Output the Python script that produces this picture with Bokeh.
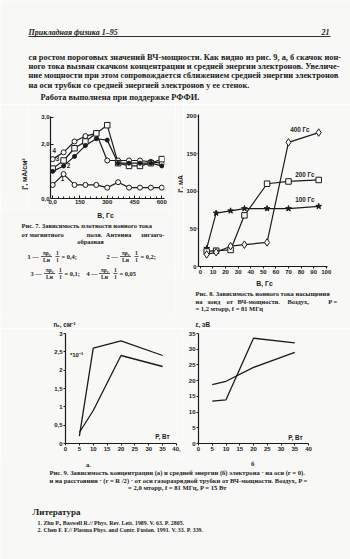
import math
from bokeh.plotting import figure
from bokeh.models import Range1d, FixedTicker, Label, CustomJSTickFormatter
from bokeh.layouts import column, row
from bokeh.embed import file_html
from bokeh.resources import INLINE
from bokeh.core.properties import value

# ------------------------------------------------------------------ data
# Fig. 7: ion current density j+ (mA/cm^2) vs magnetic field B (Gs)
fig7_b = [0, 60, 120, 180, 240, 300, 360, 420, 480, 540, 600]
fig7_curve1 = [0.5, 0.9, 0.5, 0.5, 0.5, 0.4, 0.6, 0.4, 0.4, 0.4, 0.4]
fig7_curve2 = [1.0, 1.2, 1.55, 1.95, 2.2, 2.15, 1.3, 1.3, 1.3, 1.3, 1.2]
fig7_curve3 = [1.1, 1.4, 1.85, 2.1, 2.4, 2.7, 1.3, 1.2, 1.2, 1.3, 1.45]
fig7_curve4 = [1.45, 1.7, 2.1, 2.3, 2.4, 1.4, 1.4, 1.4, 1.4, 1.35, 1.3]
fig7_names = ["1", "2", "3", "4"]
fig7_xticks = [0, 150, 300, 450, 600]
fig7_xtick_labels = ["0,0", "150", "300", "450", "600"]
fig7_yticks = [0, 2, 3]
fig7_ytick_labels = ["0,0", "2,0", "3,0"]

# Fig. 8: probe saturation ion current j+ (mA)
fig8_x = [5, 12.5, 24, 35, 53, 70, 94]
fig8_100 = [24, 71, 74, 77, 77, 77, 80]
fig8_200 = [20, 21, 22, 68, 110, 113, 115]
fig8_400 = [16, 19, 27, 29, 32, 165, 178]
fig8_names = ["100 Гс", "200 Гс", "400 Гс"]
fig8_xticks = [0, 10, 20, 30, 40, 50, 60, 70, 80, 90, 100]
fig8_xtick_labels = ["0", "10", "20", "30", "40", "50", "60", "70", "80", "90", "100"]
fig8_yticks = [0, 50, 100, 150, 200]
fig8_ytick_labels = ["0", "50", "100", "150", "200"]

# Fig. 9: electron concentration (a) and mean energy (б) vs RF power P (W)
fig9_p = [5, 10, 20, 35]
fig9a_axis = [0.2, 2.6, 2.8, 2.4]
fig9a_half = [0.3, 0.9, 2.4, 2.1]
fig9b_axis = [13.5, 13.9, 33.5, 32.0]
fig9b_half = [18.7, 19.8, 24.2, 29.0]
fig9_xticks = [0, 5, 10, 15, 20, 25, 30, 35, 40]
fig9a_xtick_labels = ["0", "5", "10", "15", "20", "25", "30", "35", "40,"]
fig9b_xtick_labels = ["0", "5", "10", "15", "20", "25", "30", "35", "40"]
fig9a_yticks = [0, 0.5, 1, 1.5, 2, 2.5, 3]
fig9a_ytick_labels = ["0", "0,5", "1", "1,5", "2", "2,5", "3"]
fig9b_yticks = [0, 5, 10, 15, 20, 25, 30, 35]
fig9b_ytick_labels = ["0", "5", "10", "15", "20", "25", "30", "35"]

# ------------------------------------------------------------------ texts
header_left = "Прикладная физика 1–95"
header_right = "21"
para_lines = [
    "ся ростом пороговых значений ВЧ-мощности. Как видно из рис. 9, а, б скачок ион-",
    "ного тока вызван скачком концентрации и средней энергии электронов. Увеличе-",
    "ние мощности при этом сопровождается сближением средней энергии электронов",
    "на оси трубки со средней энергией электронов у ее стенок.",
]
thanks_line = "Работа выполнена при поддержке РФФИ."
fig7_xlabel = "B, Гс"
fig7_ylabel = "j⁺, мА/см²"
cap7_line1 = "Рис. 7. Зависимость плотности ионного тока"
cap7_line2_words = ["от магнитного", "поля.", "Антенна", "зигзаго-"]
cap7_line3 = "образная"
formula_nums = ["1 —", "2 —", "3 —", "4 —"]
formula_denoms = ["Lн", "Lн", "Lн", "Lн"]
formula_vals = ["= 0,4;", "= 0,2;", "= 0,1;", "= 0,05"]
fig8_xlabel = "B, Гс"
fig8_ylabel = "j⁺, мА"
cap8_line1 = "Рис. 8. Зависимость ионного тока насыщения"
cap8_line2_words = ["на", "зонд", "от", "ВЧ-мощности.", "Воздух,", "P ="]
cap8_line3 = "= 1,2 мторр, f = 81 МГц"
fig9a_ylabel = "nₑ, см⁻³"
fig9b_ylabel = "ε, эВ"
fig9_xlabel = "P, Вт"
fig9a_factor = "*10⁻³"
fig9_panels = ["а.", "б"]
cap9_lines = [
    "Рис. 9. Зависимость концентрации (а) и средней энергии  (б)  электрона  · на оси (r = 0).",
    "и на расстоянии · (r = R /2) · от оси  газоразрядной  трубки   от ВЧ-мощности.   Воздух, P =",
    "= 2,0 мторр, f = 81 МГц, P = 15 Вт",
]
lit_title = "Литература"
lit_refs = [
    "1. Zhu P., Baswell R.// Phys. Rev. Lett. 1989. V. 63. P. 2805.",
    "2. Chen F. F.// Plasma Phys. and Contr. Fusion. 1991. V. 33. P. 339.",
]

# ------------------------------------------------------------------ style
BG = "#f8f8f7"
INK = "#1b1b1b"
SERIF = "Liberation Serif"
SANS = "Liberation Sans"
CAP = "6.5px"


def canvas(w, h):
    p = figure(width=w, height=h, x_range=Range1d(0, w), y_range=Range1d(h, 0),
               x_axis_type=None, y_axis_type=None, min_border=0, title=None,
               toolbar_location=None, output_backend="svg")
    p.outline_line_color = None
    p.background_fill_color = BG
    p.border_fill_color = BG
    return p


def put(p, xs, ys, texts, size, font=SERIF, style="bold", align="left", angle=0):
    p.text(x=xs, y=ys, text=texts, text_font=value(font), text_font_size=size,
           text_font_style=style, text_align=align, text_baseline="middle",
           text_color=INK, angle=angle)


def fraction(p, cx, ybar, num, den, half):
    put(p, [cx], [ybar - 3.6], [num], "5.6px", align="center")
    put(p, [cx], [ybar + 3.9], [den], "5.6px", align="center")
    p.segment(x0=[cx - half], y0=[ybar], x1=[cx + half], y1=[ybar],
              line_color=INK, line_width=0.7)


def labeller(vals, labels):
    return CustomJSTickFormatter(
        args=dict(tvals=vals, tlabels=labels),
        code="const i = tvals.findIndex(t => Math.abs(t - tick) < 1e-9);"
             "return i < 0 ? '' : tlabels[i];")


def chart(w, h, xr, yr, bl, br, bt, bb):
    p = figure(width=w, height=h, x_range=Range1d(*xr), y_range=Range1d(*yr),
               min_border_left=bl, min_border_right=br, min_border_top=bt,
               min_border_bottom=bb, title=None, toolbar_location=None,
               output_backend="svg")
    p.grid.visible = False
    p.outline_line_color = None
    p.background_fill_color = BG
    p.border_fill_color = BG
    for ax in p.axis:
        ax.axis_line_color = INK
        ax.axis_line_width = 1.2
        ax.major_tick_line_color = INK
        ax.major_tick_line_width = 1
        ax.major_tick_in = 0
        ax.major_tick_out = 2
        ax.minor_tick_line_color = None
        ax.major_label_text_font = SANS
        ax.major_label_text_font_size = "6px"
        ax.major_label_text_font_style = "bold"
        ax.major_label_text_color = INK
        ax.major_label_standoff = 1
    return p


def note(p, x, y, text, size="6.3px", align="left"):
    p.add_layout(Label(x=x, y=y, text=text, text_font=SANS, text_font_size=size,
                       text_font_style="bold", text_align=align,
                       text_baseline="middle", text_color=INK))


# ------------------------------------------------------------------ page top (0..104)
top = canvas(350, 104)
put(top, [28], [31.7], [header_left], "8px", style="bold italic")
put(top, [329], [31.7], [header_right], "8px", style="bold italic", align="right")
top.segment(x0=[28], y0=[36], x1=[330], y1=[36], line_color=INK, line_width=0.9)
put(top, [28] * 4, [56.7, 66, 75.3, 84.5], para_lines, "8.4px")
put(top, [40], [96.5], [thanks_line], "8.4px")

# ------------------------------------------------------------------ fig 7 (104..208)
c7y = canvas(28, 104)
put(c7y, [24], [73], [fig7_ylabel], "7px", font=SANS, align="center", angle=math.pi / 2)

f7 = chart(147, 104, (-12, 615), (0, 3.02), 22, 11, 12, 10)
f7.xaxis.ticker = FixedTicker(ticks=fig7_xticks, minor_ticks=list(range(0, 601, 30)))
f7.xaxis.formatter = labeller(fig7_xticks, fig7_xtick_labels)
f7.xaxis.major_tick_in = 3
f7.xaxis.major_tick_out = 0
f7.xaxis.minor_tick_line_color = INK
f7.xaxis.minor_tick_in = 2
f7.xaxis.minor_tick_out = 0
f7.yaxis.ticker = FixedTicker(ticks=fig7_yticks)
f7.yaxis.formatter = labeller(fig7_yticks, fig7_ytick_labels)
f7.yaxis.major_tick_in = 3
f7.yaxis.major_tick_out = 0
for ys in (fig7_curve1, fig7_curve2, fig7_curve3, fig7_curve4):
    f7.line(fig7_b, ys, line_color=INK, line_width=1.2)
f7.scatter(fig7_b, fig7_curve1, marker="circle", size=5, fill_color=BG, line_color=INK, line_width=1)
f7.scatter(fig7_b, fig7_curve4, marker="circle", size=5, fill_color=BG, line_color=INK, line_width=1)
f7.scatter(fig7_b, fig7_curve3, marker="square", size=5.5, fill_color=BG, line_color=INK, line_width=1)
f7.scatter(fig7_b, fig7_curve2, marker="circle", size=4, fill_color=INK, line_color=INK)
note(f7, 54, 0.74, fig7_names[0], align="center")
note(f7, 87, 1.21, fig7_names[1], align="center")
note(f7, 26, 1.47, fig7_names[2], align="center")
note(f7, 9, 1.77, fig7_names[3], align="center")

# caption 7 (208..316)
c7 = canvas(175, 108)
put(c7, [105], [7], [fig7_xlabel], "6.8px", font=SANS, align="center")
put(c7, [21], [17], [cap7_line1], CAP)
put(c7, [21], [26], cap7_line2_words[:1], CAP)
put(c7, [94, 118], [26, 26], cap7_line2_words[1:3], CAP, align="center")
put(c7, [164], [26], cap7_line2_words[3:], CAP, align="right")
put(c7, [90], [32.5], [cap7_line3], CAP, align="center")
rows_f = [(48, 27, 46, 57, 61), (48, 106, 125, 136, 140),
          (65, 30, 49, 60, 64), (65, 86, 104, 115, 119)]
for i, (yb, xl, xf, xo, xv) in enumerate(rows_f):
    put(c7, [xl], [yb], [formula_nums[i]], "6.4px")
    fraction(c7, xf, yb, "πρ₀", formula_denoms[i], 5.5)
    fraction(c7, xo, yb, "1", "l", 2)
    put(c7, [xv], [yb], [formula_vals[i]], "6.4px")

# ------------------------------------------------------------------ fig 8 (104..277)
c8y = canvas(8, 173)
put(c8y, [4.5], [79], [fig8_ylabel], "6.8px", font=SANS, align="center", angle=math.pi / 2)

f8 = chart(167, 173, (-1.5, 101), (0, 202), 12, 23, 10, 11)
f8.xaxis.ticker = FixedTicker(ticks=fig8_xticks)
f8.xaxis.formatter = labeller(fig8_xticks, fig8_xtick_labels)
f8.yaxis.ticker = FixedTicker(ticks=fig8_yticks)
f8.yaxis.formatter = labeller(fig8_yticks, fig8_ytick_labels)
f8.yaxis.major_tick_out = 1
for ys in (fig8_100, fig8_200, fig8_400):
    f8.line(fig8_x, ys, line_color=INK, line_width=1.2)
f8.scatter(fig8_x, fig8_100, marker="star", size=6, fill_color=INK, line_color=INK)
f8.scatter(fig8_x, fig8_200, marker="square", size=5.5, fill_color=BG, line_color=INK, line_width=1)
f8.scatter(fig8_x, fig8_400, marker="diamond", size=7.5, fill_color=BG, line_color=INK, line_width=1)
note(f8, 83, 89, fig8_names[0], align="center")
note(f8, 83, 122, fig8_names[1], align="center")
note(f8, 79, 182, fig8_names[2], align="center")

# caption 8 (277..316)
c8 = canvas(175, 39)
put(c8, [89], [6], [fig8_xlabel], "6.8px", font=SANS, align="center")
put(c8, [20], [16.3], [cap8_line1], CAP)
put(c8, [20, 32, 51, 62, 112], [23.7] * 5, cap8_line2_words[:5], CAP)
put(c8, [162], [23.7], cap8_line2_words[5:], CAP, align="right")
put(c8, [20], [31.3], [cap8_line3], CAP)

# ------------------------------------------------------------------ fig 9 labels strip (316..328)
s9 = canvas(350, 12)
put(s9, [53], [7.5], [fig9a_ylabel], "6.3px", font=SANS)
put(s9, [195], [7.5], [fig9b_ylabel], "6.3px", font=SANS)

# ------------------------------------------------------------------ fig 9 (328..458)
f9a = chart(182, 130, (0, 40), (0, 3), 65, 6, 4, 15)
f9a.xaxis.ticker = FixedTicker(ticks=fig9_xticks)
f9a.xaxis.formatter = labeller(fig9_xticks, fig9a_xtick_labels)
f9a.yaxis.ticker = FixedTicker(ticks=fig9a_yticks)
f9a.yaxis.formatter = labeller(fig9a_yticks, fig9a_ytick_labels)
f9a.line(fig9_p, fig9a_axis, line_color=INK, line_width=1.3)
f9a.line(fig9_p, fig9a_half, line_color=INK, line_width=1.3)
note(f9a, 1.6, 2.41, fig9a_factor, size="6px")
note(f9a, 32.3, 0.18, fig9_xlabel)

f9b = chart(168, 130, (0, 40), (0, 35), 16, 42, 5, 15)
f9b.xaxis.ticker = FixedTicker(ticks=fig9_xticks)
f9b.xaxis.formatter = labeller(fig9_xticks, fig9b_xtick_labels)
f9b.yaxis.ticker = FixedTicker(ticks=fig9b_yticks)
f9b.yaxis.formatter = labeller(fig9b_yticks, fig9b_ytick_labels)
f9b.line(fig9_p, fig9b_axis, line_color=INK, line_width=1.3)
f9b.line(fig9_p, fig9b_half, line_color=INK, line_width=1.3)
note(f9b, 32.6, 2, fig9_xlabel)

# ------------------------------------------------------------------ page bottom (458..559)
bot = canvas(350, 101)
put(bot, [88, 252], [6, 5], fig9_panels, "6.5px", align="center")
put(bot, [49, 49], [13.7, 22], cap9_lines[:2], "6.6px")
put(bot, [177], [29.3], cap9_lines[2:], "6.6px", align="center")
put(bot, [32], [53.7], [lit_title], "9px")
put(bot, [37, 37], [64.3, 71], lit_refs, "5.9px")

page = column(top,
              row(column(row(c7y, f7), c7), column(row(c8y, f8), c8)),
              s9,
              row(f9a, f9b),
              bot)

open("out.html", "w").write(file_html(page, INLINE))
